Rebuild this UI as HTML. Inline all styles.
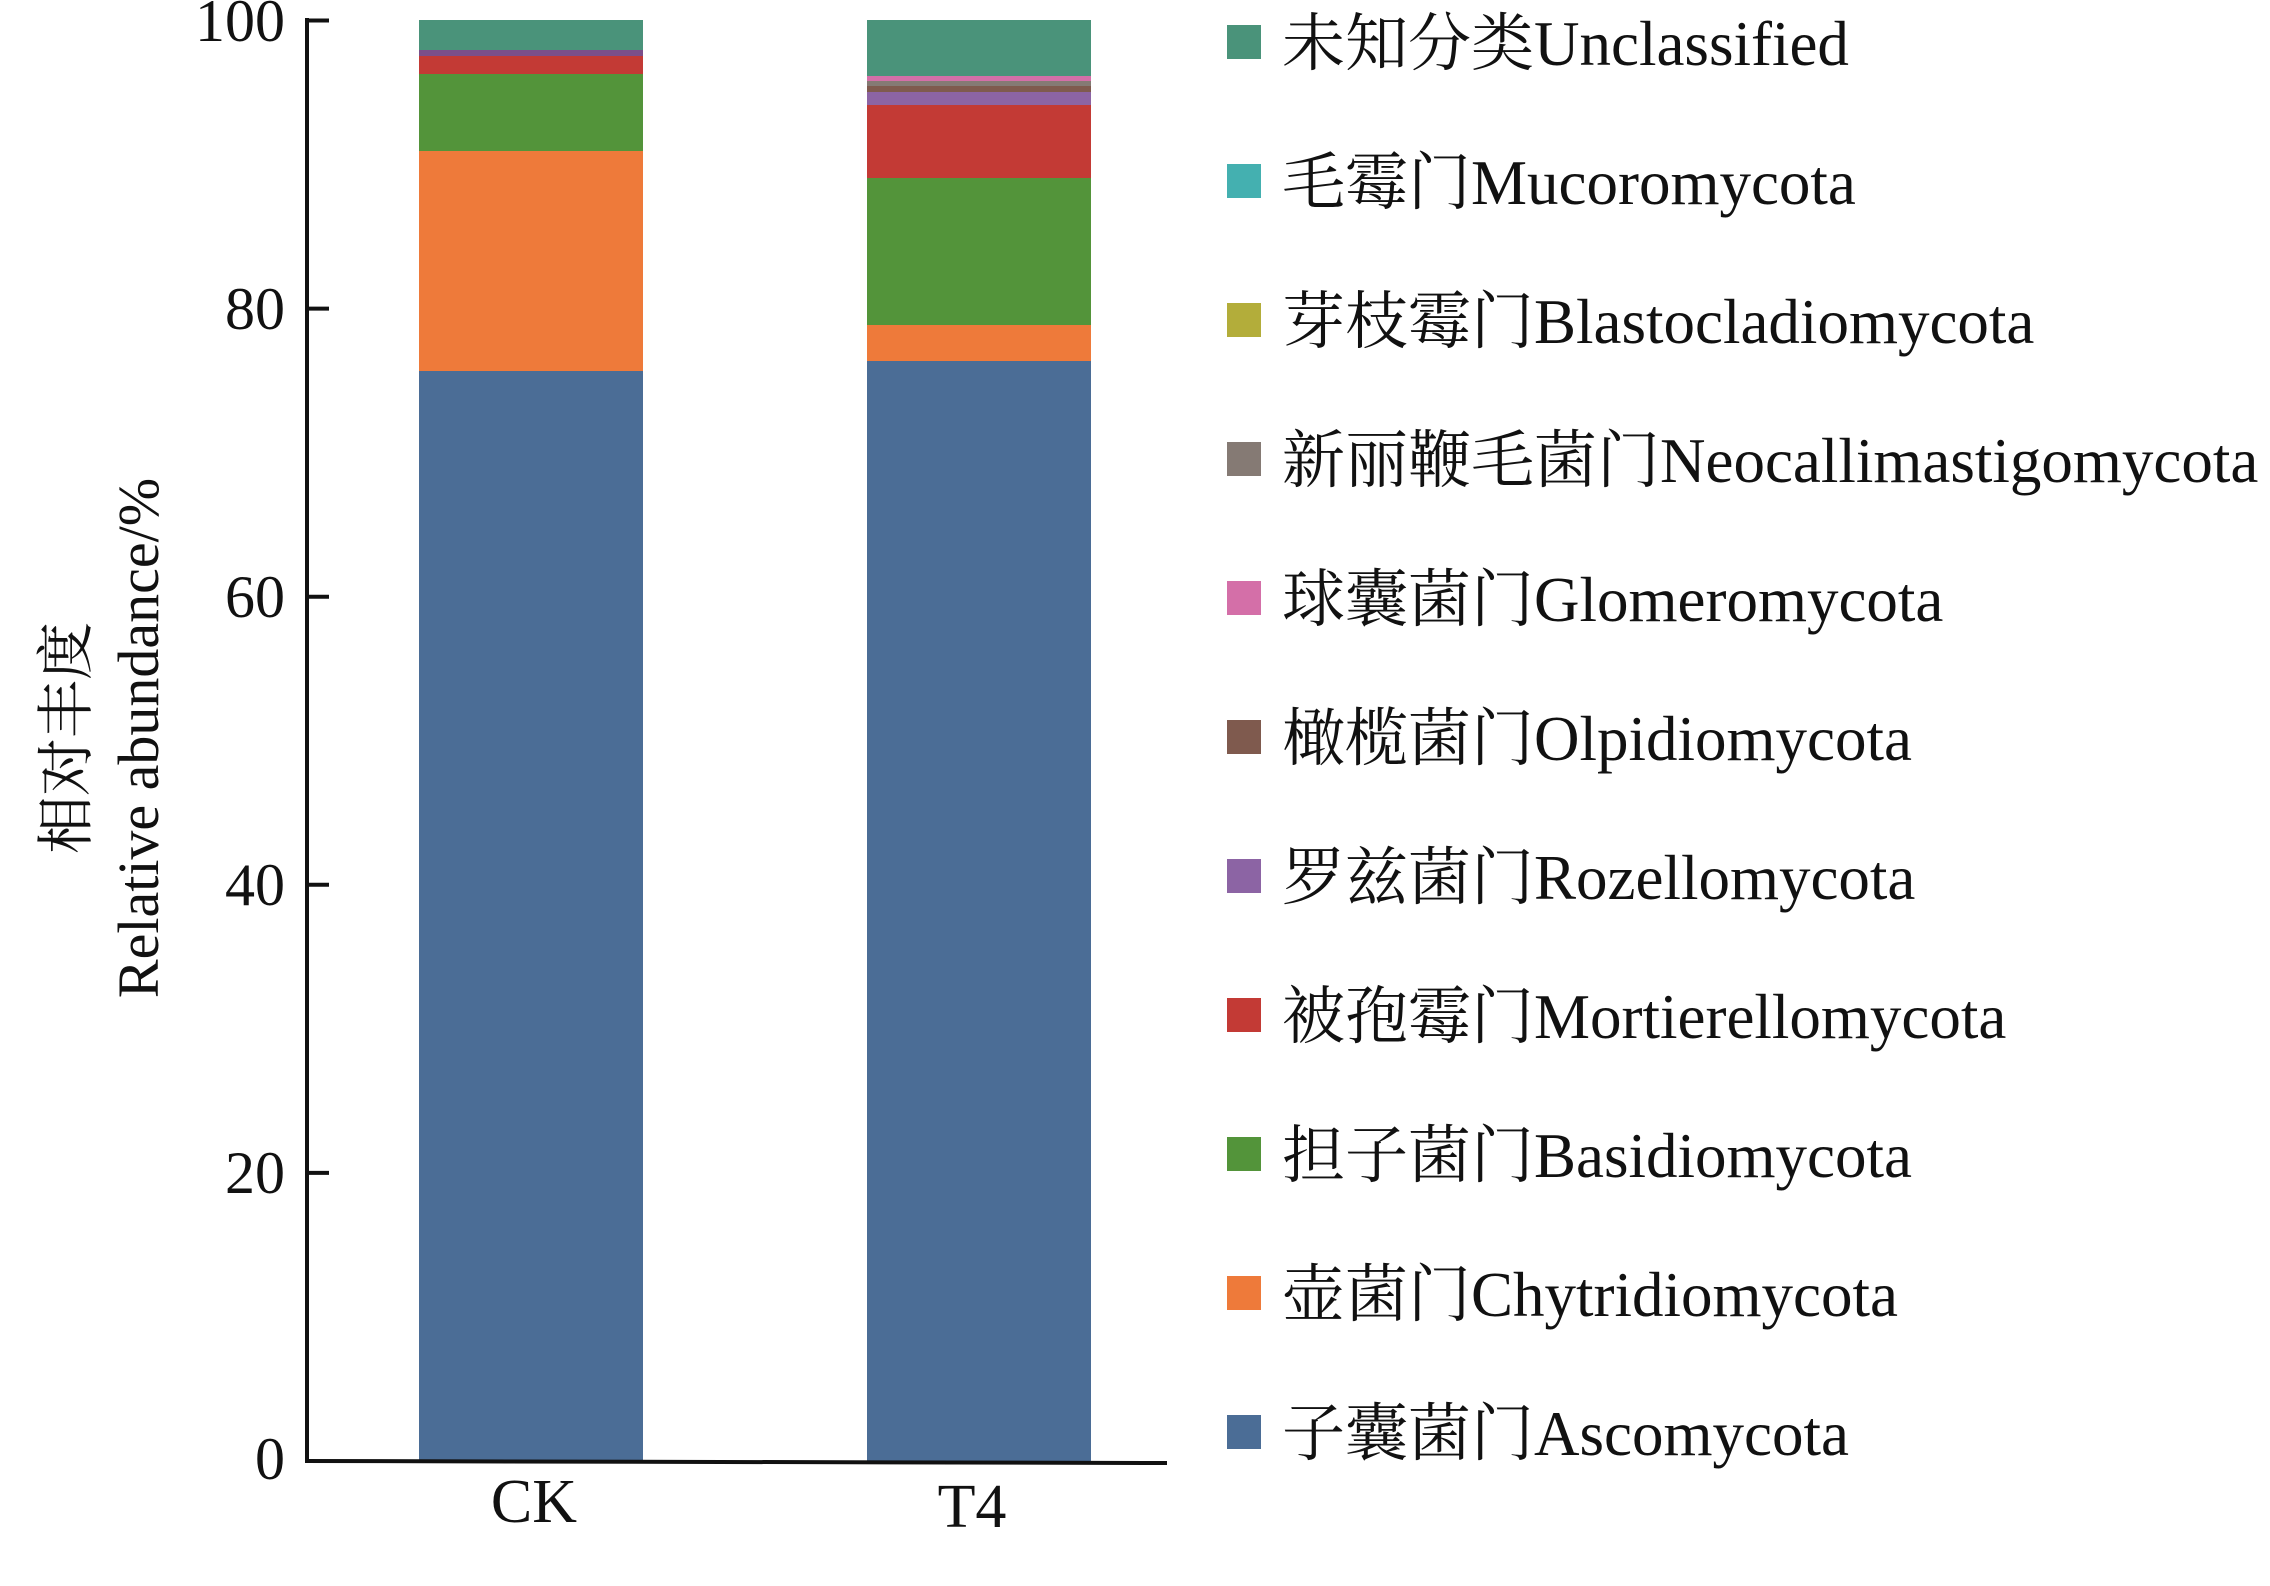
<!DOCTYPE html>
<html><head><meta charset="utf-8"><style>
html,body{margin:0;padding:0;background:#fff;}
svg{display:block;}
text{font-family:"Liberation Serif","Noto Serif CJK SC",serif;fill:#111;}
</style></head><body>
<svg width="2270" height="1586" viewBox="0 0 2270 1586" xmlns="http://www.w3.org/2000/svg">
<!-- CK bar -->
<rect x="419" y="371" width="224" height="1090" fill="#4b6d96"/>
<rect x="419" y="151" width="224" height="220" fill="#ee7a3a"/>
<rect x="419" y="74" width="224" height="77" fill="#53943a"/>
<rect x="419" y="56" width="224" height="18" fill="#c33a35"/>
<rect x="419" y="50" width="224" height="6" fill="#7b4f8a"/>
<rect x="419" y="20" width="224" height="30" fill="#4a937a"/>
<!-- T4 bar -->
<rect x="867" y="361" width="224" height="1100" fill="#4b6d96"/>
<rect x="867" y="325" width="224" height="36" fill="#ee7a3a"/>
<rect x="867" y="178" width="224" height="147" fill="#53943a"/>
<rect x="867" y="105" width="224" height="73" fill="#c33a35"/>
<rect x="867" y="92" width="224" height="13" fill="#8c64a4"/>
<rect x="867" y="86" width="224" height="6" fill="#7f5a4e"/>
<rect x="867" y="81" width="224" height="5" fill="#857a74"/>
<rect x="867" y="76" width="224" height="5" fill="#d46fa8"/>
<rect x="867" y="20" width="224" height="56" fill="#4a937a"/>
<!-- axes -->
<line x1="307" y1="18" x2="307" y2="1461" stroke="#111" stroke-width="4"/>
<line x1="305" y1="1461" x2="1167" y2="1463" stroke="#111" stroke-width="4"/>
<g stroke="#111" stroke-width="4">
<line x1="307" y1="20.5" x2="329" y2="20.5"/>
<line x1="307" y1="308.6" x2="329" y2="308.6"/>
<line x1="307" y1="596.7" x2="329" y2="596.7"/>
<line x1="307" y1="884.8" x2="329" y2="884.8"/>
<line x1="307" y1="1172.9" x2="329" y2="1172.9"/>
</g>
<g font-size="60" text-anchor="end">
<text x="285" y="41">100</text>
<text x="285" y="329">80</text>
<text x="285" y="617">60</text>
<text x="285" y="905">40</text>
<text x="285" y="1193">20</text>
<text x="285" y="1479">0</text>
</g>
<g font-size="62" text-anchor="middle">
<text x="534" y="1522">CK</text>
<text x="972" y="1527">T4</text>
</g>
<g font-size="58" text-anchor="middle">
<text transform="translate(86,738) rotate(-90)">相对丰度</text>
<text transform="translate(158,738) rotate(-90)">Relative abundance/%</text>
</g>
<!-- legend -->
<g font-size="63">
<rect x="1227" y="25" width="34" height="34" fill="#4a937a"/><text x="1282" y="65">未知分类Unclassified</text>
<rect x="1227" y="164" width="34" height="34" fill="#44b0b0"/><text x="1282" y="204">毛霉门Mucoromycota</text>
<rect x="1227" y="303" width="34" height="34" fill="#b3ad3a"/><text x="1282" y="343">芽枝霉门Blastocladiomycota</text>
<rect x="1227" y="442" width="34" height="34" fill="#857a74"/><text x="1282" y="482">新丽鞭毛菌门Neocallimastigomycota</text>
<rect x="1227" y="581" width="34" height="34" fill="#d46fa8"/><text x="1282" y="621">球囊菌门Glomeromycota</text>
<rect x="1227" y="720" width="34" height="34" fill="#7f5a4e"/><text x="1282" y="760">橄榄菌门Olpidiomycota</text>
<rect x="1227" y="859" width="34" height="34" fill="#8c64a4"/><text x="1282" y="899">罗兹菌门Rozellomycota</text>
<rect x="1227" y="998" width="34" height="34" fill="#c33a35"/><text x="1282" y="1038">被孢霉门Mortierellomycota</text>
<rect x="1227" y="1137" width="34" height="34" fill="#53943a"/><text x="1282" y="1177">担子菌门Basidiomycota</text>
<rect x="1227" y="1276" width="34" height="34" fill="#ee7a3a"/><text x="1282" y="1316">壶菌门Chytridiomycota</text>
<rect x="1227" y="1415" width="34" height="34" fill="#4b6d96"/><text x="1282" y="1455">子囊菌门Ascomycota</text>
</g>
</svg>
</body></html>
